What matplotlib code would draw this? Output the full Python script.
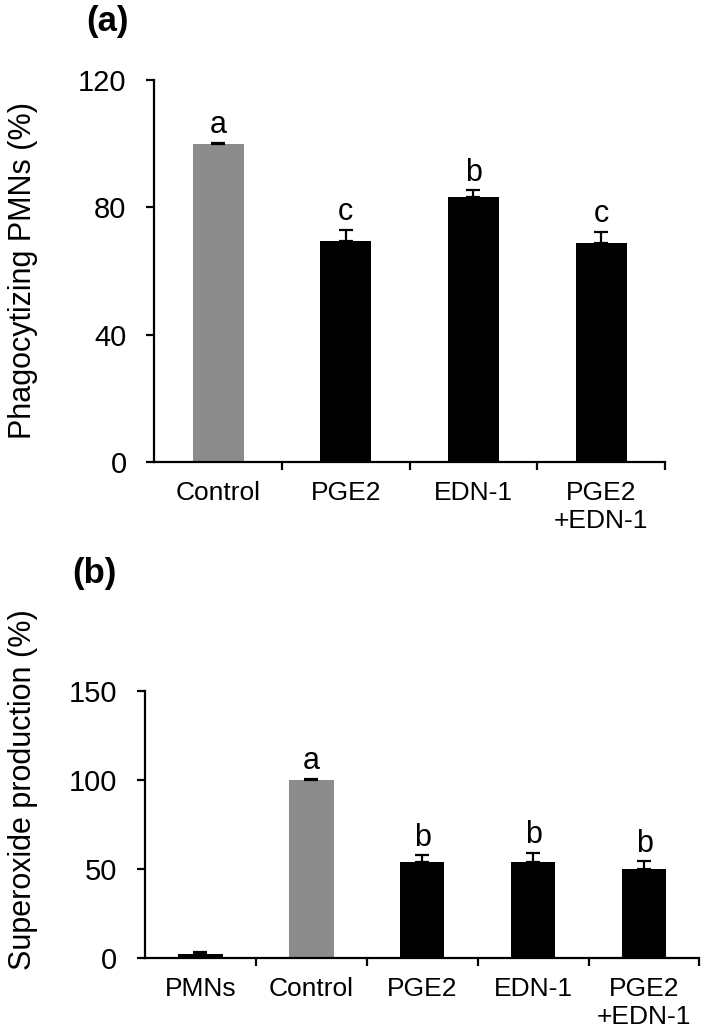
import numpy as np
import matplotlib
matplotlib.use("Agg")
import matplotlib.pyplot as plt

# ---------------- DATA ----------------
cats_a = ["Control", "PGE2", "EDN-1", "PGE2\n+EDN-1"]
vals_a = [100.0, 69.3, 83.2, 68.8]
errs_a = [0.3, 3.5, 2.1, 3.5]
sig_a = ["a", "c", "b", "c"]

cats_b = ["PMNs", "Control", "PGE2", "EDN-1", "PGE2\n+EDN-1"]
vals_b = [2.0, 100.0, 53.8, 53.8, 49.8]
errs_b = [1.4, 0.3, 3.7, 5.0, 4.3]
sig_b = ["", "a", "b", "b", "b"]

colors_a = ["#8c8c8c", "black", "black", "black"]
colors_b = ["black", "#8c8c8c", "black", "black", "black"]

plt.rcParams["font.family"] = ["Liberation Sans", "DejaVu Sans"]

fig = plt.figure(figsize=(7.04, 10.32), dpi=100)


def draw_panel(ax, cats, vals, errs, sig, colors, ymax, yticks, ylabel):
    x = np.arange(len(cats))
    ax.bar(x, vals, width=0.4, color=colors, edgecolor="none", zorder=2)
    ax.errorbar(x, vals, yerr=[np.zeros(len(vals)), errs], fmt="none",
                ecolor="black", elinewidth=1.6, capsize=5, capthick=1.6, zorder=3)
    for xi, v, e, s in zip(x, vals, errs, sig):
        if s:
            ax.annotate(s, (xi, v + e), xytext=(0, 7), textcoords="offset points",
                        ha="center", va="baseline", fontsize=22)
    ax.set_xlim(-0.5, len(cats) - 0.5)
    ax.set_ylim(0, ymax)
    ax.set_yticks(yticks)
    ax.set_xticks(x)
    ax.set_xticklabels(cats, fontsize=19)
    ax.set_xticks(x + 0.5, minor=True)
    ax.tick_params(axis="x", which="major", length=0, pad=14)
    ax.tick_params(axis="x", which="minor", direction="out", length=6, width=1.6)
    ax.tick_params(axis="y", direction="out", length=6, width=1.6, labelsize=21, pad=14)
    for side in ["top", "right"]:
        ax.spines[side].set_visible(False)
    for side in ["left", "bottom"]:
        ax.spines[side].set_linewidth(1.6)
    ax.set_ylabel(ylabel, fontsize=22)


# ---------------- PANEL A ----------------
ax1 = fig.add_axes([0.2192, 0.5524, 0.7254, 0.3701])
draw_panel(ax1, cats_a, vals_a, errs_a, sig_a, colors_a, 120, [0, 40, 80, 120],
           "Phagocytizing PMNs (%)")
ax1.yaxis.set_label_coords(-0.228, 0.5)
fig.text(0.153, 0.979, "(a)", fontsize=25, fontweight="bold", ha="center", va="center")

# ---------------- PANEL B ----------------
ax2 = fig.add_axes([0.206, 0.0720, 0.7876, 0.2587])
draw_panel(ax2, cats_b, vals_b, errs_b, sig_b, colors_b, 150, [0, 50, 100, 150],
           "Superoxide production (%)")
ax2.yaxis.set_label_coords(-0.193, 0.628)
fig.text(0.134, 0.444, "(b)", fontsize=25, fontweight="bold", ha="center", va="center")

fig.savefig("out.png", dpi=100)
